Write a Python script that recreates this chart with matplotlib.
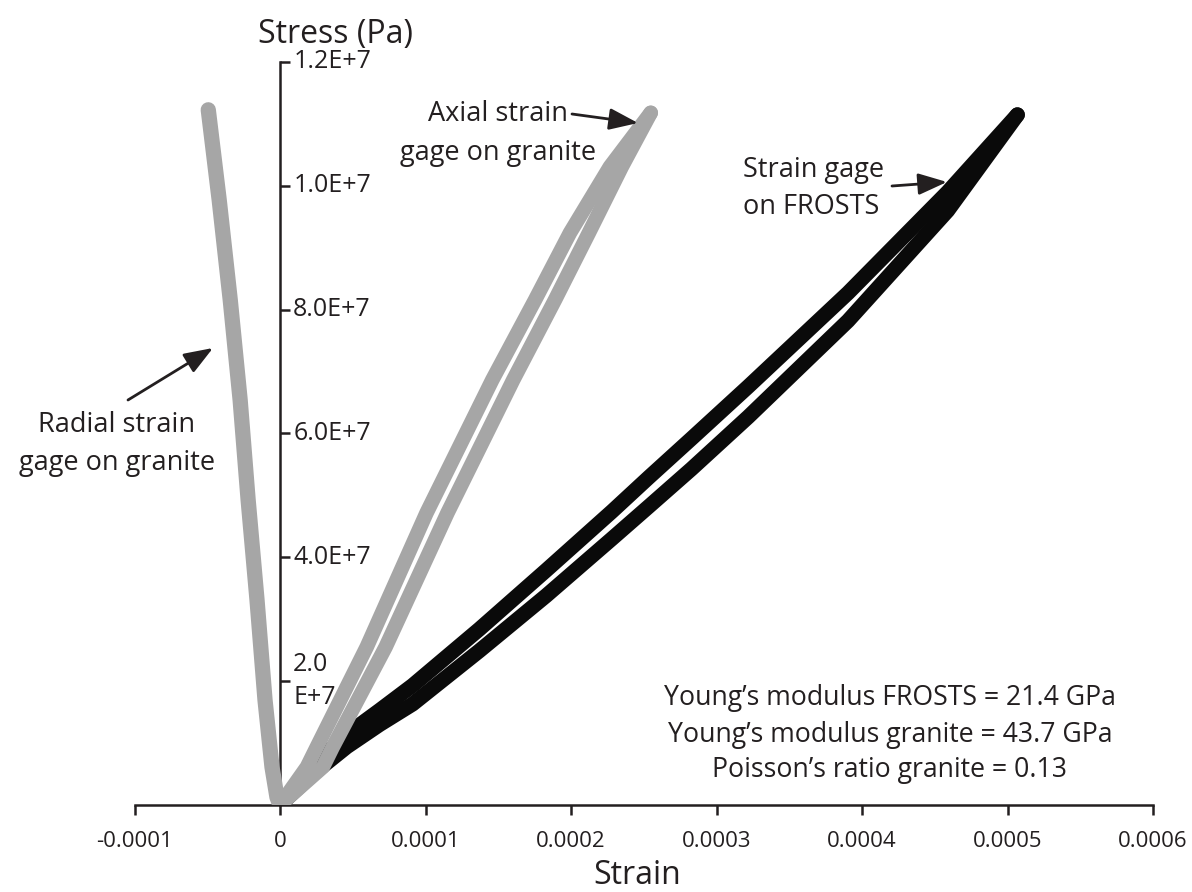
import matplotlib
matplotlib.use("Agg")
import matplotlib.pyplot as plt
from matplotlib.patches import FancyArrowPatch

plt.rcParams["font.family"] = ["Open Sans", "DejaVu Sans"]

TEXT = "#231f20"
GRAY = "#a6a6a6"
BLACK = "#0a0a0a"

# axis ticks
strain_ticks = [-0.0001, 0, 0.0001, 0.0002, 0.0003, 0.0004, 0.0005, 0.0006]
strain_labels = ["-0.0001", "0", "0.0001", "0.0002", "0.0003", "0.0004", "0.0005", "0.0006"]
stress_ticks = [2.0e6, 4.0e6, 6.0e6, 8.0e6, 1.0e7, 1.2e7]
stress_labels = ["2.0\nE+7", "4.0E+7", "6.0E+7", "8.0E+7", "1.0E+7", "1.2E+7"]

# strain gage on FROSTS: loading / unloading branches share strain samples
frosts_strain = [0.0, 2.26e-5, 4.59e-5, 6.85e-5, 9.11e-5, 1.370e-4, 1.829e-4,
                 2.281e-4, 2.534e-4, 2.829e-4, 3.219e-4, 3.904e-4, 4.589e-4, 5.068e-4]
frosts_stress_unload = [0.0, 6.3e5, 1.14e6, 1.53e6, 1.93e6, 2.84e6, 3.79e6,
                        4.74e6, 5.29e6, 5.92e6, 6.76e6, 8.27e6, 9.90e6, 1.1147e7]
frosts_stress_load = [0.0, 5.0e5, 9.4e5, 1.30e6, 1.63e6, 2.49e6, 3.38e6,
                      4.30e6, 4.82e6, 5.43e6, 6.27e6, 7.82e6, 9.60e6, 1.1147e7]

# axial strain gage on granite: branches share stress samples
axial_stress = [0.0, 6.14e5, 9.37e5, 2.552e6, 4.717e6, 6.866e6, 8.158e6,
                9.241e6, 1.0307e7, 1.1179e7]
axial_strain_unload = [0.0, 1.85e-5, 2.53e-5, 5.96e-5, 1.007e-4, 1.459e-4,
                       1.753e-4, 1.993e-4, 2.267e-4, 2.548e-4]
axial_strain_load = [0.0, 2.95e-5, 3.63e-5, 7.26e-5, 1.151e-4, 1.603e-4,
                     1.890e-4, 2.123e-4, 2.349e-4, 2.548e-4]

# radial strain gage on granite
radial_stress = [0.0, 1.29e5, 6.14e5, 1.696e6, 3.312e6, 4.927e6, 6.543e6,
                 8.158e6, 9.774e6, 1.1228e7]
radial_strain = [0.0, -2.1e-6, -5.5e-6, -1.03e-5, -1.58e-5, -2.19e-5,
                 -2.74e-5, -3.42e-5, -4.18e-5, -4.93e-5]

stats_lines = ["Young\u2019s modulus FROSTS = 21.4 GPa",
               "Young\u2019s modulus granite = 43.7 GPa",
               "Poisson\u2019s ratio granite = 0.13"]

W, H = 1192, 892
fig = plt.figure(figsize=(W / 100, H / 100), dpi=100)
ax = fig.add_axes([134.5 / W, (H - 805) / H, 1018.5 / W, 743 / H])
ax.set_xlim(-0.0001, 0.0006)
ax.set_ylim(0, 1.2e7)


def fx(px):
    return px / W


def fy(py):
    return 1 - py / H


line_kw = dict(solid_capstyle="round", solid_joinstyle="round", zorder=3)
ax.plot(frosts_strain, frosts_stress_load, color=BLACK, lw=10.8, **line_kw)
ax.plot(frosts_strain, frosts_stress_unload, color=BLACK, lw=10.8, **line_kw)
ax.plot(axial_strain_load, axial_stress, color=GRAY, lw=10.5, **line_kw)
ax.plot(axial_strain_unload, axial_stress, color=GRAY, lw=10.5, **line_kw)
ax.plot(radial_strain, radial_stress, color=GRAY, lw=11, **line_kw)

# axes: x along the bottom, y spine through zero strain
for side in ("top", "right"):
    ax.spines[side].set_visible(False)
ax.spines["left"].set_position(("data", 0))
for side in ("left", "bottom"):
    ax.spines[side].set_linewidth(1.8)
    ax.spines[side].set_color(TEXT)

ax.set_xticks(strain_ticks)
ax.set_xticklabels(strain_labels)
ax.tick_params(axis="x", direction="out", length=7, width=1.8, pad=12,
               labelsize=16, colors=TEXT)
ax.set_yticks(stress_ticks)
ax.tick_params(axis="y", direction="in", length=7, width=1.8,
               labelleft=False, colors=TEXT)
for v, lab in zip(stress_ticks, stress_labels):
    ax.annotate(lab, xy=(0, v), xytext=(9.5, 0), textcoords="offset points",
                ha="left", va="center", fontsize=18, color=TEXT,
                linespacing=1.4)

fig.text(fx(335), fy(43), "Stress (Pa)", ha="center", va="baseline",
         fontsize=23, color=TEXT)
fig.text(fx(637), fy(892), "Strain", ha="center", va="bottom",
         fontsize=23, color=TEXT)

# curve labels
for txt, bl in (("Radial strain", 432), ("gage on granite", 470)):
    fig.text(fx(117), fy(bl), txt, ha="center", va="baseline", fontsize=19.5, color=TEXT)
for txt, bl in (("Axial strain", 121), ("gage on granite", 160)):
    fig.text(fx(498), fy(bl), txt, ha="center", va="baseline", fontsize=19.5, color=TEXT)
for txt, bl in (("Strain gage", 177), ("on FROSTS", 214)):
    fig.text(fx(743), fy(bl), txt, ha="left", va="baseline", fontsize=19.5, color=TEXT)

arrow_kw = dict(arrowstyle="-|>,head_length=0.8,head_width=0.3", color=TEXT,
                lw=2, mutation_scale=22, shrinkA=0, shrinkB=0)
for tail, head in (((128, 400), (213, 348)),
                   ((572, 114), (638, 123)),
                   ((892, 186), (947, 182))):
    fig.add_artist(FancyArrowPatch(
        (fx(tail[0]), fy(tail[1])), (fx(head[0]), fy(head[1])),
        transform=fig.transFigure, **arrow_kw))

for txt, bl in zip(stats_lines, (705, 742, 777)):
    fig.text(fx(890), fy(bl), txt, ha="center", va="baseline", fontsize=19.2, color=TEXT)

fig.savefig("out.png", dpi=100)
